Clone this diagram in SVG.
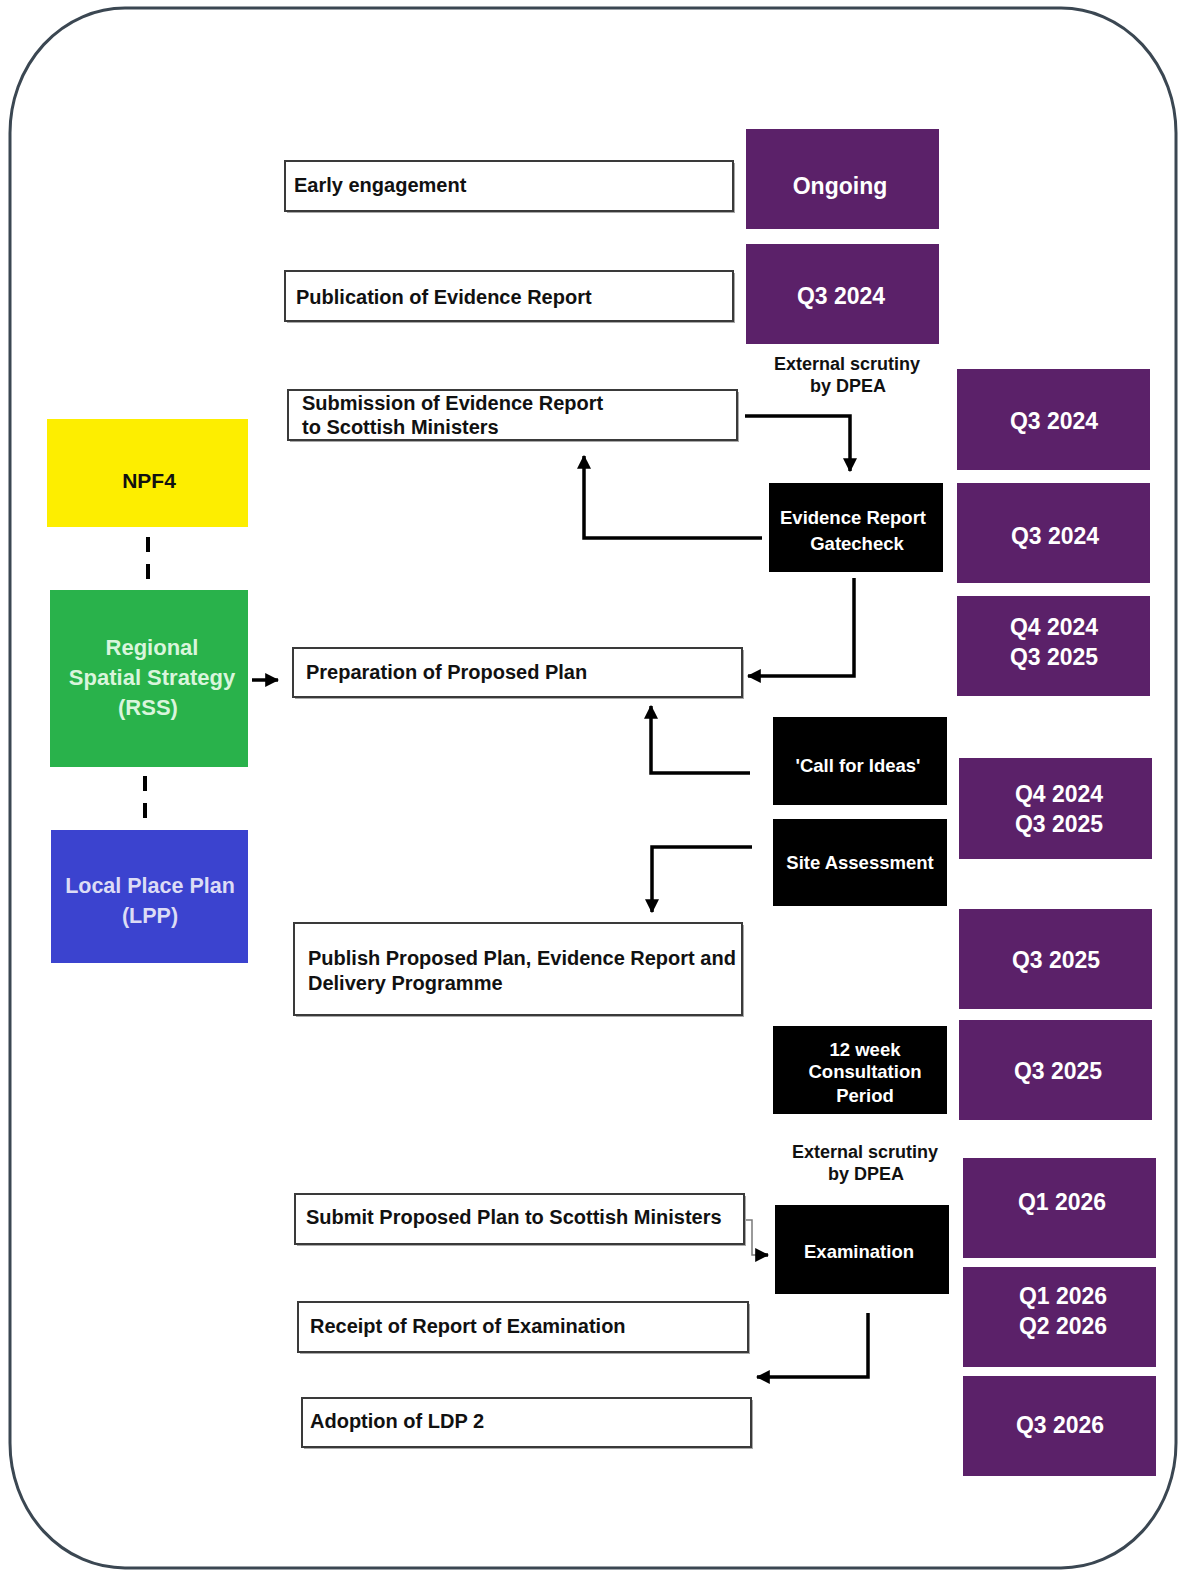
<svg xmlns="http://www.w3.org/2000/svg" width="1181" height="1571" viewBox="0 0 1181 1571">
<defs>
<style>
.frame{fill:#fff;stroke:#3b4752;stroke-width:3}
.wb{fill:#fff;stroke:#3a3a3a;stroke-width:2}
.sh{fill:#a9a9a9}
.pb{fill:#5b2169}
.bb{fill:#000}
.t{font-family:"Liberation Sans",Arial,sans-serif;font-weight:bold;font-size:20px;fill:#111}
.d{font-family:"Liberation Sans",Arial,sans-serif;font-weight:bold;font-size:23px;fill:#fff;text-anchor:middle}
.k{font-family:"Liberation Sans",Arial,sans-serif;font-weight:bold;font-size:18.5px;fill:#fff;text-anchor:middle}
.e{font-family:"Liberation Sans",Arial,sans-serif;font-weight:bold;font-size:18px;fill:#111;text-anchor:middle}
.c{fill:none;stroke:#000;stroke-width:3.5}
.dash{fill:none;stroke:#000;stroke-width:4;stroke-dasharray:15 12}
</style>
<marker id="ah" viewBox="0 0 12 12" refX="11" refY="6" markerWidth="14" markerHeight="14" markerUnits="userSpaceOnUse" orient="auto">
<path d="M0,0 L12,6 L0,12 Z" fill="#000"/>
</marker>
</defs>
<rect class="frame" x="10" y="8" width="1166" height="1560" rx="115" ry="125"/>

<g id="connectors">
<path class="c" d="M745,416 H850 V471" marker-end="url(#ah)"/>
<path class="c" d="M762,538 H584 V456" marker-end="url(#ah)"/>
<path class="c" d="M854,578 V676 H748" marker-end="url(#ah)"/>
<path class="c" d="M252,680 H278" marker-end="url(#ah)"/>
<path class="c" d="M750,773 H651 V706" marker-end="url(#ah)"/>
<path class="c" d="M752,847 H652 V912" marker-end="url(#ah)"/>
<path d="M746,1220 H752 V1255 H758" fill="none" stroke="#7a7a7a" stroke-width="1.5"/>
<path class="c" d="M758,1255 H768" marker-end="url(#ah)"/>
<path class="c" d="M868,1313 V1377 H757" marker-end="url(#ah)"/>
<path class="dash" d="M148,537 V583"/>
<path class="dash" d="M145,776 V822"/>
</g>

<g id="npf4"><rect x="47" y="419" width="201" height="108" fill="#fdee00"/><text x="149" y="488" font-family="Liberation Sans,Arial,sans-serif" font-weight="bold" font-size="21" text-anchor="middle" fill="#111">NPF4</text></g>
<g id="rss"><rect x="50" y="590" width="198" height="177" fill="#29b24b"/>
<text font-family="Liberation Sans,Arial,sans-serif" font-weight="bold" font-size="22" text-anchor="middle" fill="#d9f5dc"><tspan x="152" y="655">Regional</tspan><tspan x="152" y="685">Spatial Strategy</tspan><tspan x="148" y="715">(RSS)</tspan></text></g>
<g id="lpp"><rect x="51" y="830" width="197" height="133" fill="#3b43cf"/>
<text font-family="Liberation Sans,Arial,sans-serif" font-weight="bold" font-size="21.5" text-anchor="middle" fill="#dcdcf5"><tspan x="150" y="893">Local Place Plan</tspan><tspan x="150" y="923">(LPP)</tspan></text></g>

<g id="early"><rect class="sh" x="287" y="163" width="448" height="50"/><rect class="wb" x="285" y="161" width="448" height="50"/><text class="t" x="294" y="192">Early engagement</text></g>
<g id="publication"><rect class="sh" x="287" y="273" width="448" height="50"/><rect class="wb" x="285" y="271" width="448" height="50"/><text class="t" x="296" y="304">Publication of Evidence Report</text></g>
<g id="submission"><rect class="sh" x="290" y="392" width="449" height="50"/><rect class="wb" x="288" y="390" width="449" height="50"/><text class="t"><tspan x="302" y="410">Submission of Evidence Report</tspan><tspan x="302" y="434">to Scottish Ministers</tspan></text></g>
<g id="preparation"><rect class="sh" x="295" y="650" width="449" height="49"/><rect class="wb" x="293" y="648" width="449" height="49"/><text class="t" x="306" y="679">Preparation of Proposed Plan</text></g>
<g id="publish"><rect class="sh" x="296" y="925" width="448" height="92"/><rect class="wb" x="294" y="923" width="448" height="92"/><text class="t"><tspan x="308" y="965">Publish Proposed Plan, Evidence Report and</tspan><tspan x="308" y="990">Delivery Programme</tspan></text></g>
<g id="submit"><rect class="sh" x="297" y="1196" width="449" height="50"/><rect class="wb" x="295" y="1194" width="449" height="50"/><text class="t" x="306" y="1224">Submit Proposed Plan to Scottish Ministers</text></g>
<g id="receipt"><rect class="sh" x="300" y="1304" width="450" height="50"/><rect class="wb" x="298" y="1302" width="450" height="50"/><text class="t" x="310" y="1333">Receipt of Report of Examination</text></g>
<g id="adoption"><rect class="sh" x="304" y="1400" width="449" height="49"/><rect class="wb" x="302" y="1398" width="449" height="49"/><text class="t" x="310" y="1428">Adoption of LDP 2</text></g>

<g id="gatecheck"><rect class="bb" x="769" y="483" width="174" height="89"/><text class="k"><tspan x="853" y="524">Evidence Report</tspan><tspan x="857" y="550">Gatecheck</tspan></text></g>
<g id="call"><rect class="bb" x="773" y="717" width="174" height="88"/><text class="k" x="858" y="772">'Call for Ideas'</text></g>
<g id="site"><rect class="bb" x="773" y="819" width="174" height="87"/><text class="k" x="860" y="869">Site Assessment</text></g>
<g id="consultation"><rect class="bb" x="773" y="1026" width="174" height="88"/><text class="k"><tspan x="865" y="1056">12 week</tspan><tspan x="865" y="1078">Consultation</tspan><tspan x="865" y="1102">Period</tspan></text></g>
<g id="examination"><rect class="bb" x="775" y="1205" width="174" height="89"/><text class="k" x="859" y="1258">Examination</text></g>

<g id="scrutiny1"><text class="e"><tspan x="847" y="370">External scrutiny</tspan><tspan x="848" y="392">by DPEA</tspan></text></g>
<g id="scrutiny2"><text class="e"><tspan x="865" y="1158">External scrutiny</tspan><tspan x="866" y="1180">by DPEA</tspan></text></g>

<g id="p1"><rect class="pb" x="746" y="129" width="193" height="100"/><text class="d" x="840" y="194">Ongoing</text></g>
<g id="p2"><rect class="pb" x="746" y="244" width="193" height="100"/><text class="d" x="841" y="304">Q3 2024</text></g>
<g id="p3"><rect class="pb" x="957" y="369" width="193" height="101"/><text class="d" x="1054" y="429">Q3 2024</text></g>
<g id="p4"><rect class="pb" x="957" y="483" width="193" height="100"/><text class="d" x="1055" y="544">Q3 2024</text></g>
<g id="p5"><rect class="pb" x="957" y="596" width="193" height="100"/><text class="d"><tspan x="1054" y="635">Q4 2024</tspan><tspan x="1054" y="665">Q3 2025</tspan></text></g>
<g id="p6"><rect class="pb" x="959" y="758" width="193" height="101"/><text class="d"><tspan x="1059" y="802">Q4 2024</tspan><tspan x="1059" y="832">Q3 2025</tspan></text></g>
<g id="p7"><rect class="pb" x="959" y="909" width="193" height="100"/><text class="d" x="1056" y="968">Q3 2025</text></g>
<g id="p8"><rect class="pb" x="959" y="1020" width="193" height="100"/><text class="d" x="1058" y="1079">Q3 2025</text></g>
<g id="p9"><rect class="pb" x="963" y="1158" width="193" height="100"/><text class="d" x="1062" y="1210">Q1 2026</text></g>
<g id="p10"><rect class="pb" x="963" y="1267" width="193" height="100"/><text class="d"><tspan x="1063" y="1304">Q1 2026</tspan><tspan x="1063" y="1334">Q2 2026</tspan></text></g>
<g id="p11"><rect class="pb" x="963" y="1376" width="193" height="100"/><text class="d" x="1060" y="1433">Q3 2026</text></g>
</svg>
